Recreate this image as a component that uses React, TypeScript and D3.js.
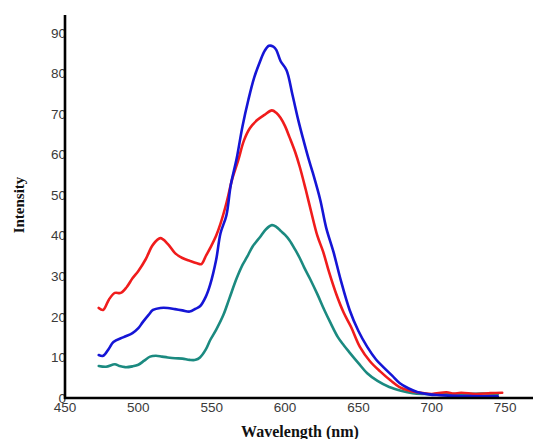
import React from "react";
import * as d3 from "d3";

const xTicks = [450, 500, 550, 600, 650, 700, 750];
const yTicks = [0, 10, 20, 30, 40, 50, 60, 70, 80, 90];

const redWl = [473, 476, 480, 484, 488, 492, 496, 500, 505, 510, 515, 520, 525, 530, 535, 540, 543, 546, 549, 553, 556, 560, 564, 568, 572, 576, 581, 586, 591, 594, 597, 600, 603, 607, 610, 614, 618, 622, 626, 630, 635, 640, 645, 651, 658, 665, 672, 678, 685, 694, 700, 710, 715, 720, 730, 740, 748];
const redVal = [22.2, 21.7, 24.3, 25.9, 25.9, 27.3, 29.5, 31.3, 34.2, 37.8, 39.4, 38.0, 35.7, 34.5, 33.8, 33.2, 33.0, 35, 37, 40, 43, 48, 54, 58.5, 63.5, 66.5, 68.5, 69.8, 70.9, 70.3, 69.0, 67, 64.3, 60.5, 57, 51.5, 45.6, 40, 36, 31, 25.5, 21, 17.5, 12.6, 9, 6.5, 4.3, 2.7, 1.8, 1.2, 1.0, 1.4, 1.1, 1.3, 1.0, 1.2, 1.3];

const blueWl = [473, 476, 480, 483, 490, 496, 500, 503, 507, 510, 515, 520, 525, 530, 535, 539, 542, 546, 549, 553, 556, 560, 563, 567, 571, 575, 579, 583, 586, 589, 592, 594, 597, 601, 605, 609, 612, 616, 619, 624, 628, 633, 638, 644, 650, 656, 662, 667, 673, 678, 684, 690, 698, 705, 720, 735, 745];
const blueVal = [10.6, 10.4, 12.2, 13.8, 15, 16, 17.2, 18.7, 20.5, 21.7, 22.2, 22.2, 21.9, 21.6, 21.3, 22.0, 22.6, 25, 28, 34, 40.6, 45, 52.5, 59, 67, 73.5, 79, 83, 85.5, 86.8, 86.6, 85.8, 83, 80.8, 74.8, 68.5, 64.3, 59, 55.4, 48.8, 42, 36, 29, 21.7, 16.5, 12.6, 9.5, 7.6, 5.5, 3.7, 2.4, 1.5, 0.9, 0.7, 0.5, 0.4, 0.4];

const tealWl = [473, 478, 484, 487, 491, 496, 500, 504, 508, 512, 516, 520, 525, 530, 535, 539, 542, 546, 549, 553, 558, 562, 567, 571, 574, 578, 583, 587, 591, 594, 597, 600, 603, 607, 610, 613, 617, 622, 627, 631, 636, 640, 644, 650, 656, 663, 671, 679, 687, 695, 705, 720, 735, 745];
const tealVal = [7.9, 7.7, 8.3, 7.9, 7.6, 7.8, 8.2, 9.2, 10.2, 10.4, 10.2, 10.0, 9.8, 9.7, 9.4, 9.4, 10.0, 12.0, 14.3, 16.8, 20.5, 24.5, 29.5, 32.8, 34.7, 37.4, 39.7, 41.6, 42.6, 42.2, 41.2, 40.2, 38.9, 36.5, 34.5, 32.2, 29.4, 25.6, 21.5, 18.5, 15, 13, 11.2, 8.6, 6.1, 4.2, 2.7, 1.8, 1.2, 1.0, 0.9, 1.0, 1.1, 1.0];

const seriesList = [
  { name: "teal", wl: tealWl, val: tealVal, color: "#1b8a80" },
  { name: "red", wl: redWl, val: redVal, color: "#f01c1c" },
  { name: "blue", wl: blueWl, val: blueVal, color: "#1515d6" },
];

export default function App() {
  const W = 533, H = 439;
  const left = 65, right = 533, top = 15, bottom = 398;
  const x = d3.scaleLinear().domain([450, 769]).range([left, right]);
  const y = d3.scaleLinear().domain([0, 94.4]).range([bottom, top]);
  const line = d3
    .line<[number, number]>()
    .x((d) => x(d[0]))
    .y((d) => y(d[1]))
    .curve(d3.curveCatmullRom.alpha(0.5));

  const tickFont = "'Liberation Sans', Arial, sans-serif";
  const titleFont = "'Liberation Serif', 'Times New Roman', serif";

  return (
    <svg
      width={W}
      height={H}
      style={{ position: "absolute", left: 0, top: 0, background: "#fff" }}
    >
      <rect x={0} y={0} width={W} height={H} fill="#fff" />
      {seriesList.map((s) => (
        <path
          key={s.name}
          d={line(s.wl.map((w, i) => [w, s.val[i]] as [number, number])) || ""}
          fill="none"
          stroke={s.color}
          strokeWidth={2.6}
          strokeLinejoin="round"
          strokeLinecap="round"
        />
      ))}
      {yTicks.map((t) => (
        <text
          key={"y" + t}
          x={left + 1}
          y={y(t)}
          dy="0.35em"
          textAnchor="end"
          fontFamily={tickFont}
          fontSize={13.5}
          fill="#3a3a3a"
        >
          {t}
        </text>
      ))}
      {xTicks.map((t) => (
        <text
          key={"x" + t}
          x={x(t)}
          y={bottom + 14}
          textAnchor="middle"
          fontFamily={tickFont}
          fontSize={13.5}
          fill="#3a3a3a"
        >
          {t}
        </text>
      ))}
      <line x1={left} x2={left} y1={top} y2={bottom + 1} stroke="#000" strokeWidth={2.6} />
      <line x1={left - 1} x2={right} y1={bottom} y2={bottom} stroke="#000" strokeWidth={2.6} />
      <text
        transform={`translate(24,205) rotate(-90)`}
        textAnchor="middle"
        fontFamily={titleFont}
        fontWeight="bold"
        fontSize={15}
        fill="#111"
      >
        Intensity
      </text>
      <text
        x={300}
        y={437}
        textAnchor="middle"
        fontFamily={titleFont}
        fontWeight="bold"
        fontSize={16}
        fill="#111"
      >
        Wavelength (nm)
      </text>
    </svg>
  );
}
